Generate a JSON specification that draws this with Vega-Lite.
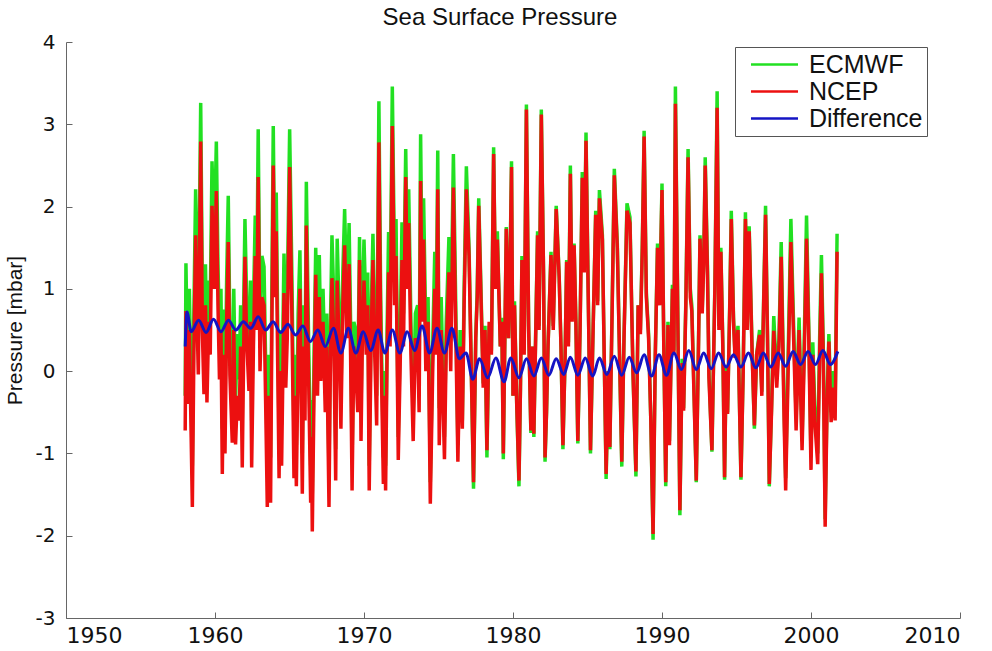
{
  "$schema": "https://vega.github.io/schema/vega-lite/v6.json",
  "width": 894,
  "height": 576,
  "autosize": {"type": "none"},
  "padding": {"left": 66, "top": 42, "right": 32, "bottom": 33},
  "background": "white",
  "title": {"text": "Sea Surface Pressure", "fontSize": 24, "fontWeight": "normal", "font": "Liberation Sans", "color": "#111", "anchor": "middle", "dx": -13, "offset": 2},
  "config": {
    "view": {"stroke": null},
    "axis": {"grid": false, "labelFont": "DejaVu Sans", "titleFont": "Liberation Sans", "labelColor": "#111", "titleColor": "#111", "domainColor": "#666", "tickColor": "#666", "titleFontSize": 21, "titleFontWeight": "normal", "tickSize": -6}
  },
  "datasets": {
    "p": [
      {"t":1958.00,"NCEP":-0.72,"ECMWF":-0.30},{"t":1958.05,"NCEP":0.73,"ECMWF":1.31},{"t":1958.15,"NCEP":-0.40,"ECMWF":0.15},{"t":1958.28,"NCEP":0.50,"ECMWF":1.00},{"t":1958.40,"NCEP":-0.80,"ECMWF":-0.30},{"t":1958.48,"NCEP":-1.65,"ECMWF":-1.15},{"t":1958.58,"NCEP":0.20,"ECMWF":0.70},{"t":1958.70,"NCEP":1.65,"ECMWF":2.21},{"t":1958.80,"NCEP":0.60,"ECMWF":1.15},{"t":1958.88,"NCEP":-0.04,"ECMWF":0.50},
      {"t":1959.04,"NCEP":2.79,"ECMWF":3.26},{"t":1959.15,"NCEP":0.50,"ECMWF":1.00},{"t":1959.26,"NCEP":-0.28,"ECMWF":0.25},{"t":1959.36,"NCEP":0.80,"ECMWF":1.30},{"t":1959.46,"NCEP":-0.38,"ECMWF":0.15},{"t":1959.58,"NCEP":0.60,"ECMWF":1.10},{"t":1959.68,"NCEP":0.20,"ECMWF":0.80},{"t":1959.80,"NCEP":2.01,"ECMWF":2.55},{"t":1959.95,"NCEP":1.00,"ECMWF":1.55},
      {"t":1960.09,"NCEP":2.19,"ECMWF":2.79},{"t":1960.20,"NCEP":0.80,"ECMWF":1.30},{"t":1960.30,"NCEP":-0.10,"ECMWF":0.45},{"t":1960.40,"NCEP":0.50,"ECMWF":1.00},{"t":1960.49,"NCEP":-1.25,"ECMWF":-0.70},{"t":1960.58,"NCEP":0.20,"ECMWF":0.75},{"t":1960.67,"NCEP":-1.00,"ECMWF":-0.45},{"t":1960.78,"NCEP":0.60,"ECMWF":1.10},{"t":1960.89,"NCEP":1.57,"ECMWF":2.13},
      {"t":1961.00,"NCEP":-0.05,"ECMWF":0.50},{"t":1961.16,"NCEP":-0.87,"ECMWF":-0.35},{"t":1961.26,"NCEP":0.50,"ECMWF":1.00},{"t":1961.38,"NCEP":-0.89,"ECMWF":-0.35},{"t":1961.50,"NCEP":-0.30,"ECMWF":0.45},{"t":1961.62,"NCEP":-0.60,"ECMWF":-0.10},{"t":1961.72,"NCEP":0.30,"ECMWF":0.80},{"t":1961.83,"NCEP":-1.17,"ECMWF":-0.60},{"t":1961.92,"NCEP":0.20,"ECMWF":0.75},
      {"t":1962.01,"NCEP":1.39,"ECMWF":1.85},{"t":1962.12,"NCEP":0.40,"ECMWF":0.90},{"t":1962.28,"NCEP":-0.24,"ECMWF":0.30},{"t":1962.38,"NCEP":0.60,"ECMWF":1.10},{"t":1962.46,"NCEP":-1.17,"ECMWF":-0.60},{"t":1962.58,"NCEP":0.30,"ECMWF":0.80},{"t":1962.70,"NCEP":1.40,"ECMWF":1.89},{"t":1962.80,"NCEP":0.50,"ECMWF":1.00},{"t":1962.90,"NCEP":2.36,"ECMWF":2.94},
      {"t":1963.02,"NCEP":0.00,"ECMWF":0.55},{"t":1963.15,"NCEP":0.90,"ECMWF":1.40},{"t":1963.29,"NCEP":0.80,"ECMWF":1.27},{"t":1963.40,"NCEP":-0.40,"ECMWF":0.10},{"t":1963.51,"NCEP":-1.65,"ECMWF":-1.10},{"t":1963.62,"NCEP":-0.30,"ECMWF":0.20},{"t":1963.73,"NCEP":-1.60,"ECMWF":-1.05},{"t":1963.82,"NCEP":0.60,"ECMWF":1.10},{"t":1963.91,"NCEP":2.50,"ECMWF":2.98},
      {"t":1964.00,"NCEP":0.90,"ECMWF":1.40},{"t":1964.11,"NCEP":1.70,"ECMWF":2.17},{"t":1964.20,"NCEP":0.20,"ECMWF":0.70},{"t":1964.30,"NCEP":-1.30,"ECMWF":-0.80},{"t":1964.38,"NCEP":0.00,"ECMWF":0.50},{"t":1964.47,"NCEP":-1.15,"ECMWF":-0.65},{"t":1964.63,"NCEP":0.95,"ECMWF":1.43},{"t":1964.75,"NCEP":-0.20,"ECMWF":0.30},{"t":1964.85,"NCEP":0.40,"ECMWF":0.90},
      {"t":1965.01,"NCEP":2.48,"ECMWF":2.94},{"t":1965.15,"NCEP":0.80,"ECMWF":1.30},{"t":1965.30,"NCEP":-1.30,"ECMWF":-0.80},{"t":1965.38,"NCEP":-0.30,"ECMWF":0.20},{"t":1965.46,"NCEP":-1.40,"ECMWF":-0.90},{"t":1965.58,"NCEP":0.20,"ECMWF":0.70},{"t":1965.70,"NCEP":1.00,"ECMWF":1.47},{"t":1965.86,"NCEP":-1.49,"ECMWF":-1.00},{"t":1965.95,"NCEP":0.30,"ECMWF":0.80},
      {"t":1966.04,"NCEP":-0.60,"ECMWF":-0.10},{"t":1966.13,"NCEP":1.77,"ECMWF":2.30},{"t":1966.25,"NCEP":0.30,"ECMWF":0.75},{"t":1966.42,"NCEP":-1.60,"ECMWF":-1.15},{"t":1966.47,"NCEP":-0.80,"ECMWF":-0.35},{"t":1966.53,"NCEP":-1.95,"ECMWF":-1.50},{"t":1966.65,"NCEP":-0.20,"ECMWF":0.25},{"t":1966.76,"NCEP":1.17,"ECMWF":1.50},{"t":1966.88,"NCEP":-0.30,"ECMWF":0.10},
      {"t":1967.00,"NCEP":0.90,"ECMWF":1.41},{"t":1967.10,"NCEP":-0.12,"ECMWF":0.30},{"t":1967.25,"NCEP":0.60,"ECMWF":1.00},{"t":1967.40,"NCEP":-0.50,"ECMWF":-0.10},{"t":1967.50,"NCEP":0.30,"ECMWF":0.70},{"t":1967.65,"NCEP":-1.65,"ECMWF":-1.25},{"t":1967.75,"NCEP":0.20,"ECMWF":0.60},{"t":1967.85,"NCEP":1.13,"ECMWF":1.65},{"t":1967.97,"NCEP":0.40,"ECMWF":0.90},
      {"t":1968.10,"NCEP":-1.33,"ECMWF":-0.95},{"t":1968.20,"NCEP":1.10,"ECMWF":1.61},{"t":1968.35,"NCEP":0.20,"ECMWF":0.60},{"t":1968.45,"NCEP":-0.70,"ECMWF":-0.35},{"t":1968.58,"NCEP":0.80,"ECMWF":1.20},{"t":1968.70,"NCEP":1.53,"ECMWF":1.97},{"t":1968.85,"NCEP":0.40,"ECMWF":0.80},
      {"t":1969.00,"NCEP":1.30,"ECMWF":1.80},{"t":1969.10,"NCEP":0.20,"ECMWF":0.60},{"t":1969.20,"NCEP":-1.45,"ECMWF":-1.10},{"t":1969.32,"NCEP":0.30,"ECMWF":0.60},{"t":1969.45,"NCEP":0.00,"ECMWF":0.49},{"t":1969.58,"NCEP":-0.50,"ECMWF":-0.20},{"t":1969.70,"NCEP":1.35,"ECMWF":1.63},{"t":1969.80,"NCEP":-0.85,"ECMWF":-0.50},{"t":1969.90,"NCEP":0.50,"ECMWF":0.90},
      {"t":1970.00,"NCEP":1.10,"ECMWF":1.60},{"t":1970.15,"NCEP":0.20,"ECMWF":0.60},{"t":1970.25,"NCEP":0.80,"ECMWF":1.20},{"t":1970.35,"NCEP":-1.45,"ECMWF":-1.15},{"t":1970.48,"NCEP":0.40,"ECMWF":0.70},{"t":1970.60,"NCEP":1.35,"ECMWF":1.67},{"t":1970.72,"NCEP":0.20,"ECMWF":0.55},{"t":1970.85,"NCEP":-0.66,"ECMWF":-0.30},
      {"t":1971.00,"NCEP":2.78,"ECMWF":3.28},{"t":1971.12,"NCEP":0.50,"ECMWF":0.90},{"t":1971.30,"NCEP":-1.37,"ECMWF":-1.05},{"t":1971.38,"NCEP":-0.30,"ECMWF":0.00},{"t":1971.45,"NCEP":-1.45,"ECMWF":-1.15},{"t":1971.55,"NCEP":0.20,"ECMWF":0.50},{"t":1971.65,"NCEP":1.20,"ECMWF":1.69},{"t":1971.75,"NCEP":0.30,"ECMWF":0.75},{"t":1971.90,"NCEP":2.98,"ECMWF":3.46},
      {"t":1972.05,"NCEP":0.80,"ECMWF":1.25},{"t":1972.15,"NCEP":1.40,"ECMWF":1.85},{"t":1972.30,"NCEP":-1.08,"ECMWF":-0.80},{"t":1972.42,"NCEP":0.00,"ECMWF":0.30},{"t":1972.55,"NCEP":1.35,"ECMWF":1.81},{"t":1972.65,"NCEP":0.30,"ECMWF":0.70},{"t":1972.80,"NCEP":2.36,"ECMWF":2.70},{"t":1972.90,"NCEP":1.00,"ECMWF":1.45},
      {"t":1973.00,"NCEP":1.80,"ECMWF":2.21},{"t":1973.15,"NCEP":0.20,"ECMWF":0.60},{"t":1973.30,"NCEP":-0.85,"ECMWF":-0.55},{"t":1973.45,"NCEP":0.40,"ECMWF":0.70},{"t":1973.60,"NCEP":0.30,"ECMWF":0.80},{"t":1973.70,"NCEP":-0.50,"ECMWF":-0.05},{"t":1973.80,"NCEP":2.31,"ECMWF":2.88},{"t":1973.90,"NCEP":0.60,"ECMWF":1.10},
      {"t":1974.00,"NCEP":1.60,"ECMWF":2.10},{"t":1974.15,"NCEP":0.00,"ECMWF":0.45},{"t":1974.30,"NCEP":0.60,"ECMWF":0.90},{"t":1974.45,"NCEP":-1.61,"ECMWF":-1.35},{"t":1974.62,"NCEP":0.10,"ECMWF":0.40},{"t":1974.75,"NCEP":1.00,"ECMWF":1.45},{"t":1974.85,"NCEP":0.20,"ECMWF":0.65},{"t":1974.95,"NCEP":2.21,"ECMWF":2.68},
      {"t":1975.05,"NCEP":-0.90,"ECMWF":-0.45},{"t":1975.18,"NCEP":0.50,"ECMWF":0.90},{"t":1975.28,"NCEP":-0.20,"ECMWF":0.10},{"t":1975.40,"NCEP":-1.07,"ECMWF":-0.80},{"t":1975.52,"NCEP":0.30,"ECMWF":0.60},{"t":1975.70,"NCEP":1.20,"ECMWF":1.63},{"t":1975.82,"NCEP":0.00,"ECMWF":0.45},
      {"t":1976.00,"NCEP":2.23,"ECMWF":2.64},{"t":1976.15,"NCEP":0.60,"ECMWF":0.90},{"t":1976.30,"NCEP":-1.10,"ECMWF":-0.90},{"t":1976.45,"NCEP":0.30,"ECMWF":0.50},{"t":1976.60,"NCEP":-0.70,"ECMWF":-0.60},{"t":1976.72,"NCEP":0.80,"ECMWF":1.00},{"t":1976.87,"NCEP":2.21,"ECMWF":2.49},
      {"t":1977.05,"NCEP":1.40,"ECMWF":1.50},{"t":1977.20,"NCEP":0.00,"ECMWF":0.05},{"t":1977.35,"NCEP":-1.35,"ECMWF":-1.43},{"t":1977.50,"NCEP":0.40,"ECMWF":0.40},{"t":1977.60,"NCEP":0.90,"ECMWF":1.00},{"t":1977.70,"NCEP":2.01,"ECMWF":2.10},{"t":1977.85,"NCEP":0.90,"ECMWF":1.00},
      {"t":1978.00,"NCEP":-0.20,"ECMWF":-0.15},{"t":1978.12,"NCEP":0.50,"ECMWF":0.55},{"t":1978.25,"NCEP":-0.96,"ECMWF":-1.05},{"t":1978.40,"NCEP":0.60,"ECMWF":0.55},{"t":1978.55,"NCEP":0.20,"ECMWF":0.25},{"t":1978.70,"NCEP":2.64,"ECMWF":2.72},{"t":1978.82,"NCEP":1.00,"ECMWF":1.05},{"t":1978.95,"NCEP":1.60,"ECMWF":1.70},
      {"t":1979.15,"NCEP":0.30,"ECMWF":0.30},{"t":1979.25,"NCEP":0.60,"ECMWF":0.65},{"t":1979.35,"NCEP":-1.00,"ECMWF":-1.07},{"t":1979.55,"NCEP":1.73,"ECMWF":1.75},{"t":1979.70,"NCEP":0.40,"ECMWF":0.40},{"t":1979.80,"NCEP":1.20,"ECMWF":1.25},{"t":1979.90,"NCEP":2.48,"ECMWF":2.55},
      {"t":1980.00,"NCEP":-0.30,"ECMWF":-0.30},{"t":1980.10,"NCEP":0.80,"ECMWF":0.85},{"t":1980.25,"NCEP":-0.40,"ECMWF":-0.40},{"t":1980.40,"NCEP":-1.33,"ECMWF":-1.40},{"t":1980.50,"NCEP":-0.20,"ECMWF":-0.20},{"t":1980.60,"NCEP":1.35,"ECMWF":1.40},{"t":1980.75,"NCEP":0.20,"ECMWF":0.25},{"t":1980.90,"NCEP":3.18,"ECMWF":3.24},
      {"t":1981.05,"NCEP":0.50,"ECMWF":0.55},{"t":1981.20,"NCEP":-0.72,"ECMWF":-0.75},{"t":1981.30,"NCEP":0.30,"ECMWF":0.30},{"t":1981.40,"NCEP":-0.76,"ECMWF":-0.80},{"t":1981.52,"NCEP":0.40,"ECMWF":0.45},{"t":1981.65,"NCEP":1.65,"ECMWF":1.70},{"t":1981.75,"NCEP":0.50,"ECMWF":0.55},{"t":1981.90,"NCEP":3.12,"ECMWF":3.18},
      {"t":1982.05,"NCEP":1.17,"ECMWF":1.20},{"t":1982.15,"NCEP":-1.05,"ECMWF":-1.10},{"t":1982.25,"NCEP":-0.50,"ECMWF":-0.50},{"t":1982.35,"NCEP":0.30,"ECMWF":0.30},{"t":1982.55,"NCEP":1.41,"ECMWF":1.45},{"t":1982.70,"NCEP":0.50,"ECMWF":0.55},{"t":1982.90,"NCEP":1.97,"ECMWF":2.01},
      {"t":1983.10,"NCEP":1.13,"ECMWF":1.15},{"t":1983.22,"NCEP":0.30,"ECMWF":0.30},{"t":1983.35,"NCEP":-0.90,"ECMWF":-0.95},{"t":1983.50,"NCEP":0.20,"ECMWF":0.20},{"t":1983.60,"NCEP":1.33,"ECMWF":1.35},{"t":1983.72,"NCEP":0.30,"ECMWF":0.35},{"t":1983.85,"NCEP":2.40,"ECMWF":2.50},{"t":1983.97,"NCEP":0.60,"ECMWF":0.65},
      {"t":1984.10,"NCEP":1.53,"ECMWF":1.55},{"t":1984.22,"NCEP":0.60,"ECMWF":0.60},{"t":1984.35,"NCEP":-0.85,"ECMWF":-0.88},{"t":1984.50,"NCEP":0.50,"ECMWF":0.50},{"t":1984.65,"NCEP":2.35,"ECMWF":2.42},{"t":1984.78,"NCEP":1.20,"ECMWF":1.25},{"t":1984.90,"NCEP":2.80,"ECMWF":2.90},
      {"t":1985.05,"NCEP":0.90,"ECMWF":0.95},{"t":1985.20,"NCEP":-0.96,"ECMWF":-1.00},{"t":1985.35,"NCEP":0.30,"ECMWF":0.30},{"t":1985.55,"NCEP":1.90,"ECMWF":1.95},{"t":1985.68,"NCEP":0.80,"ECMWF":0.85},{"t":1985.80,"NCEP":2.10,"ECMWF":2.20},
      {"t":1986.00,"NCEP":1.60,"ECMWF":1.65},{"t":1986.12,"NCEP":0.20,"ECMWF":0.20},{"t":1986.25,"NCEP":-1.25,"ECMWF":-1.31},{"t":1986.40,"NCEP":0.00,"ECMWF":0.00},{"t":1986.50,"NCEP":-0.92,"ECMWF":-0.95},{"t":1986.65,"NCEP":0.70,"ECMWF":0.75},{"t":1986.80,"NCEP":2.38,"ECMWF":2.46},
      {"t":1987.00,"NCEP":1.50,"ECMWF":1.55},{"t":1987.15,"NCEP":0.20,"ECMWF":0.20},{"t":1987.30,"NCEP":-1.10,"ECMWF":-1.16},{"t":1987.45,"NCEP":0.40,"ECMWF":0.40},{"t":1987.65,"NCEP":1.95,"ECMWF":2.04},{"t":1987.85,"NCEP":1.80,"ECMWF":1.87},
      {"t":1988.05,"NCEP":0.00,"ECMWF":0.00},{"t":1988.25,"NCEP":-1.22,"ECMWF":-1.28},{"t":1988.40,"NCEP":0.80,"ECMWF":0.80},{"t":1988.55,"NCEP":0.45,"ECMWF":0.50},{"t":1988.68,"NCEP":1.50,"ECMWF":1.55},{"t":1988.80,"NCEP":2.85,"ECMWF":2.92},{"t":1988.95,"NCEP":0.90,"ECMWF":0.95},
      {"t":1989.10,"NCEP":0.40,"ECMWF":0.45},{"t":1989.25,"NCEP":-0.60,"ECMWF":-0.60},{"t":1989.40,"NCEP":-1.98,"ECMWF":-2.05},{"t":1989.55,"NCEP":0.20,"ECMWF":0.20},{"t":1989.70,"NCEP":1.50,"ECMWF":1.55},{"t":1989.85,"NCEP":0.80,"ECMWF":0.85},
      {"t":1990.00,"NCEP":2.20,"ECMWF":2.28},{"t":1990.12,"NCEP":0.30,"ECMWF":0.35},{"t":1990.25,"NCEP":-1.35,"ECMWF":-1.40},{"t":1990.40,"NCEP":0.56,"ECMWF":0.60},{"t":1990.50,"NCEP":-0.90,"ECMWF":-0.85},{"t":1990.70,"NCEP":1.00,"ECMWF":1.05},{"t":1990.80,"NCEP":0.20,"ECMWF":0.25},{"t":1990.90,"NCEP":3.25,"ECMWF":3.46},
      {"t":1991.05,"NCEP":0.80,"ECMWF":0.90},{"t":1991.20,"NCEP":-1.69,"ECMWF":-1.75},{"t":1991.35,"NCEP":0.10,"ECMWF":0.15},{"t":1991.45,"NCEP":-0.48,"ECMWF":-0.45},{"t":1991.60,"NCEP":0.80,"ECMWF":0.85},{"t":1991.75,"NCEP":2.60,"ECMWF":2.70},{"t":1991.90,"NCEP":0.90,"ECMWF":1.00},
      {"t":1992.00,"NCEP":0.73,"ECMWF":0.80},{"t":1992.15,"NCEP":-0.30,"ECMWF":-0.25},{"t":1992.30,"NCEP":-1.33,"ECMWF":-1.35},{"t":1992.45,"NCEP":0.30,"ECMWF":0.35},{"t":1992.55,"NCEP":1.61,"ECMWF":1.65},{"t":1992.70,"NCEP":0.70,"ECMWF":0.75},{"t":1992.80,"NCEP":1.30,"ECMWF":1.35},{"t":1992.90,"NCEP":2.50,"ECMWF":2.60},
      {"t":1993.05,"NCEP":1.20,"ECMWF":1.30},{"t":1993.15,"NCEP":-0.08,"ECMWF":0.00},{"t":1993.35,"NCEP":-0.96,"ECMWF":-0.98},{"t":1993.55,"NCEP":1.00,"ECMWF":1.05},{"t":1993.70,"NCEP":3.20,"ECMWF":3.40},{"t":1993.82,"NCEP":0.50,"ECMWF":0.55},{"t":1993.95,"NCEP":1.45,"ECMWF":1.50},
      {"t":1994.08,"NCEP":0.30,"ECMWF":0.35},{"t":1994.20,"NCEP":-1.29,"ECMWF":-1.32},{"t":1994.30,"NCEP":0.00,"ECMWF":0.05},{"t":1994.40,"NCEP":-0.52,"ECMWF":-0.50},{"t":1994.55,"NCEP":0.80,"ECMWF":0.85},{"t":1994.65,"NCEP":1.85,"ECMWF":1.95},{"t":1994.80,"NCEP":0.60,"ECMWF":0.65},{"t":1994.90,"NCEP":0.16,"ECMWF":0.20},
      {"t":1995.10,"NCEP":0.50,"ECMWF":0.55},{"t":1995.30,"NCEP":-1.29,"ECMWF":-1.32},{"t":1995.45,"NCEP":0.00,"ECMWF":0.05},{"t":1995.60,"NCEP":1.85,"ECMWF":1.93},{"t":1995.72,"NCEP":0.50,"ECMWF":0.55},{"t":1995.85,"NCEP":1.70,"ECMWF":1.76},
      {"t":1996.05,"NCEP":0.20,"ECMWF":0.25},{"t":1996.20,"NCEP":-0.66,"ECMWF":-0.70},{"t":1996.35,"NCEP":0.20,"ECMWF":0.20},{"t":1996.55,"NCEP":0.44,"ECMWF":0.50},{"t":1996.70,"NCEP":-0.30,"ECMWF":-0.25},{"t":1996.82,"NCEP":0.80,"ECMWF":0.85},{"t":1996.95,"NCEP":1.90,"ECMWF":2.01},
      {"t":1997.08,"NCEP":0.40,"ECMWF":0.45},{"t":1997.20,"NCEP":-1.37,"ECMWF":-1.40},{"t":1997.35,"NCEP":-0.50,"ECMWF":-0.45},{"t":1997.50,"NCEP":0.49,"ECMWF":0.67},{"t":1997.70,"NCEP":-0.20,"ECMWF":-0.10},{"t":1997.85,"NCEP":0.30,"ECMWF":0.40},
      {"t":1998.00,"NCEP":1.39,"ECMWF":1.57},{"t":1998.20,"NCEP":-0.64,"ECMWF":-0.50},{"t":1998.30,"NCEP":-1.45,"ECMWF":-1.30},{"t":1998.50,"NCEP":0.30,"ECMWF":0.50},{"t":1998.65,"NCEP":1.57,"ECMWF":1.85},{"t":1998.85,"NCEP":0.30,"ECMWF":0.44},
      {"t":1999.00,"NCEP":-0.72,"ECMWF":-0.55},{"t":1999.20,"NCEP":0.50,"ECMWF":0.65},{"t":1999.40,"NCEP":-0.96,"ECMWF":-0.85},{"t":1999.55,"NCEP":0.20,"ECMWF":0.40},{"t":1999.70,"NCEP":1.61,"ECMWF":1.89},{"t":1999.85,"NCEP":0.40,"ECMWF":0.55},
      {"t":2000.00,"NCEP":-1.20,"ECMWF":-1.05},{"t":2000.12,"NCEP":0.20,"ECMWF":0.35},{"t":2000.25,"NCEP":-0.60,"ECMWF":-0.40},{"t":2000.45,"NCEP":-1.13,"ECMWF":-1.00},{"t":2000.58,"NCEP":0.20,"ECMWF":0.40},{"t":2000.70,"NCEP":1.19,"ECMWF":1.41},{"t":2000.82,"NCEP":0.20,"ECMWF":0.35},{"t":2000.95,"NCEP":-1.89,"ECMWF":-1.80},
      {"t":2001.08,"NCEP":-0.40,"ECMWF":-0.30},{"t":2001.20,"NCEP":0.36,"ECMWF":0.45},{"t":2001.35,"NCEP":-0.62,"ECMWF":-0.50},{"t":2001.50,"NCEP":-0.20,"ECMWF":0.00},{"t":2001.62,"NCEP":-0.60,"ECMWF":-0.40},{"t":2001.75,"NCEP":1.45,"ECMWF":1.67}
    ],
    "d": [
      {"t":1958.00,"Difference":0.30},{"t":1958.12,"Difference":0.72},{"t":1958.40,"Difference":0.48},{"t":1958.90,"Difference":0.62},
      {"t":1959.40,"Difference":0.47},{"t":1959.90,"Difference":0.63},{"t":1960.40,"Difference":0.48},{"t":1960.90,"Difference":0.62},
      {"t":1961.40,"Difference":0.50},{"t":1961.90,"Difference":0.60},{"t":1962.40,"Difference":0.52},{"t":1962.90,"Difference":0.66},
      {"t":1963.40,"Difference":0.50},{"t":1963.90,"Difference":0.60},{"t":1964.40,"Difference":0.47},{"t":1964.90,"Difference":0.57},
      {"t":1965.40,"Difference":0.44},{"t":1965.90,"Difference":0.55},{"t":1966.40,"Difference":0.36},{"t":1966.90,"Difference":0.50},
      {"t":1967.40,"Difference":0.30},{"t":1967.95,"Difference":0.52},{"t":1968.45,"Difference":0.22},{"t":1968.95,"Difference":0.52},
      {"t":1969.45,"Difference":0.22},{"t":1969.95,"Difference":0.48},{"t":1970.45,"Difference":0.25},{"t":1970.95,"Difference":0.50},
      {"t":1971.40,"Difference":0.22},{"t":1971.90,"Difference":0.50},{"t":1972.40,"Difference":0.22},{"t":1972.90,"Difference":0.48},
      {"t":1973.40,"Difference":0.25},{"t":1973.90,"Difference":0.55},{"t":1974.40,"Difference":0.22},{"t":1974.90,"Difference":0.52},
      {"t":1975.40,"Difference":0.22},{"t":1975.90,"Difference":0.52},{"t":1976.40,"Difference":0.15},{"t":1976.85,"Difference":0.22},
      {"t":1977.30,"Difference":-0.10},{"t":1977.75,"Difference":0.15},{"t":1978.30,"Difference":-0.08},{"t":1978.85,"Difference":0.16},
      {"t":1979.40,"Difference":-0.13},{"t":1979.85,"Difference":0.16},{"t":1980.40,"Difference":-0.08},{"t":1980.90,"Difference":0.15},
      {"t":1981.40,"Difference":-0.06},{"t":1981.90,"Difference":0.16},{"t":1982.40,"Difference":-0.05},{"t":1982.90,"Difference":0.15},
      {"t":1983.40,"Difference":-0.04},{"t":1983.85,"Difference":0.17},{"t":1984.35,"Difference":-0.05},{"t":1984.85,"Difference":0.16},
      {"t":1985.35,"Difference":-0.06},{"t":1985.80,"Difference":0.16},{"t":1986.30,"Difference":-0.04},{"t":1986.80,"Difference":0.18},
      {"t":1987.30,"Difference":-0.05},{"t":1987.80,"Difference":0.17},{"t":1988.30,"Difference":-0.02},{"t":1988.80,"Difference":0.20},
      {"t":1989.30,"Difference":-0.06},{"t":1989.80,"Difference":0.20},{"t":1990.30,"Difference":-0.05},{"t":1990.80,"Difference":0.22},
      {"t":1991.30,"Difference":0.02},{"t":1991.80,"Difference":0.25},{"t":1992.30,"Difference":0.02},{"t":1992.80,"Difference":0.22},
      {"t":1993.30,"Difference":0.03},{"t":1993.80,"Difference":0.22},{"t":1994.30,"Difference":0.05},{"t":1994.80,"Difference":0.20},
      {"t":1995.30,"Difference":0.05},{"t":1995.80,"Difference":0.22},{"t":1996.30,"Difference":0.04},{"t":1996.80,"Difference":0.22},
      {"t":1997.30,"Difference":0.05},{"t":1997.80,"Difference":0.22},{"t":1998.30,"Difference":0.06},{"t":1998.80,"Difference":0.24},
      {"t":1999.30,"Difference":0.08},{"t":1999.80,"Difference":0.24},{"t":2000.30,"Difference":0.08},{"t":2000.80,"Difference":0.25},
      {"t":2001.30,"Difference":0.08},{"t":2001.80,"Difference":0.24}
    ]
  },
  "encoding": {
    "x": {"field": "t", "type": "quantitative", "scale": {"domain": [1950, 2010], "nice": false, "zero": false},
          "axis": {"title": null, "values": [1950, 1960, 1970, 1980, 1990, 2000, 2010], "format": "d", "labelFontSize": 22, "labelPadding": 13}},
    "y": {"field": "v", "type": "quantitative", "scale": {"domain": [-3, 4], "nice": false, "zero": false},
          "axis": {"title": "Pressure [mbar]", "values": [-3, -2, -1, 0, 1, 2, 3, 4], "labelExpr": "replace(datum.label, '\u2212', '-')", "labelFontSize": 20, "labelPadding": 17, "titlePadding": 10}},
    "color": {"field": "s", "type": "nominal",
      "scale": {"domain": ["ECMWF", "NCEP", "Difference"], "range": ["#22e022", "#ec1010", "#1414c4"]},
      "legend": {"title": null, "orient": "none", "legendX": 669, "legendY": 5, "fillColor": "white", "strokeColor": "#555", "padding": 4,
        "labelFont": "Liberation Sans", "labelFontSize": 25, "labelColor": "#111", "labelOffset": 21, "rowPadding": 0,
        "symbolType": "M-1.92,0H1.92", "symbolSize": 600, "symbolStrokeWidth": 2.5, "symbolOffset": 22}}
  },
  "layer": [
    {"data": {"name": "p"}, "transform": [{"fold": ["ECMWF"], "as": ["s", "v"]}], "mark": {"type": "line", "strokeWidth": 3.5, "clip": true}},
    {"data": {"name": "p"}, "transform": [{"fold": ["NCEP"], "as": ["s", "v"]}], "mark": {"type": "line", "strokeWidth": 3.5, "clip": true}},
    {"data": {"name": "d"}, "transform": [{"fold": ["Difference"], "as": ["s", "v"]}], "mark": {"type": "line", "strokeWidth": 3, "interpolate": "monotone", "clip": true}}
  ]
}
